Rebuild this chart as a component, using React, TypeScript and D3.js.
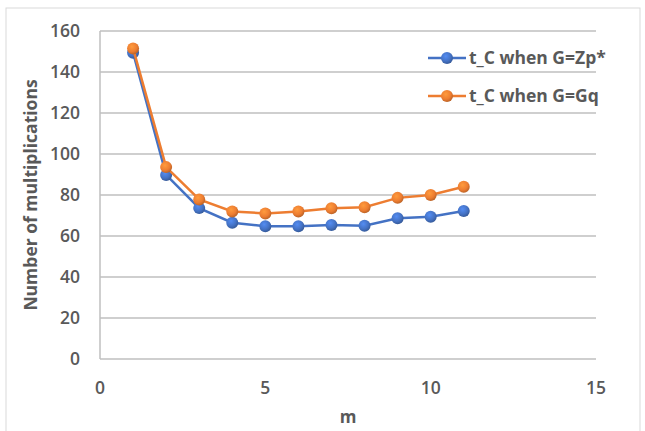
import React from "react";
import * as d3 from "d3";

const mValues = [1, 2, 3, 4, 5, 6, 7, 8, 9, 10, 11];
const zpValues = [149.4, 89.8, 73.6, 66.5, 64.8, 64.8, 65.4, 65, 68.7, 69.4, 72.2];
const gqValues = [151.5, 93.6, 77.8, 72, 71, 72, 73.5, 74, 78.6, 80, 84];
const xTicks = [0, 5, 10, 15];
const yTicks = [0, 20, 40, 60, 80, 100, 120, 140, 160];
const seriesNames = ["t_C when G=Zp*", "t_C when G=Gq"];
const seriesColors = ["#4472C4", "#ED7D31"];

const W = 645;
const H = 431;
const x = d3.scaleLinear().domain([0, 15]).range([100, 596]);
const y = d3.scaleLinear().domain([0, 160]).range([359, 31]);
const font = "'Open Sans', 'Noto Sans', sans-serif";
const textColor = "#595959";

export default function App() {
  const line = d3
    .line<number>()
    .x((_, i) => x(mValues[i]))
    .y((d) => y(d));
  const series = [zpValues, gqValues];
  return (
    <svg
      width={W}
      height={H}
      style={{ position: "fixed", left: 0, top: 0, background: "#fff" }}
    >
      <defs>
        {seriesColors.map((c, i) => (
          <radialGradient key={i} id={`g${i}`} cx="0.4" cy="0.35" r="0.7">
            <stop offset="0%" stopColor={d3.color(c)!.brighter(0.6).toString()} />
            <stop offset="60%" stopColor={c} />
            <stop offset="100%" stopColor={d3.color(c)!.darker(0.8).toString()} />
          </radialGradient>
        ))}
      </defs>
      <rect x={6} y={8} width={634} height={430} fill="#fff" stroke="#d9d9d9" strokeWidth={1} />
      {yTicks.map((t) => (
        <g key={t}>
          <line x1={x(0)} x2={x(15)} y1={y(t)} y2={y(t)} stroke="#bfbfbf" strokeWidth={1.5} />
          <text
            x={80}
            y={y(t)}
            dy="0.35em"
            textAnchor="end"
            fontFamily={font}
            fontWeight={600}
            fontSize={17.5}
            fill={textColor}
          >
            {t}
          </text>
        </g>
      ))}
      <line x1={x(0)} x2={x(0)} y1={y(160)} y2={y(0)} stroke="#bfbfbf" strokeWidth={1.5} />
      {xTicks.map((t) => (
        <text
          key={t}
          x={x(t)}
          y={388}
          dy="0.35em"
          textAnchor="middle"
          fontFamily={font}
          fontWeight={600}
          fontSize={17.5}
          fill={textColor}
        >
          {t}
        </text>
      ))}
      <text
        x={348}
        y={417}
        dy="0.35em"
        textAnchor="middle"
        fontFamily={font}
        fontWeight="bold"
        fontSize={17}
        fill={textColor}
      >
        m
      </text>
      <text
        transform={`translate(37,${y(80)}) rotate(-90)`}
        textAnchor="middle"
        fontFamily={font}
        fontWeight="bold"
        fontSize={17.5}
        fill={textColor}
      >
        Number of multiplications
      </text>
      {series.map((s, si) => (
        <g key={si}>
          <path d={line(s)!} fill="none" stroke={seriesColors[si]} strokeWidth={2.5} />
          {s.map((v, i) => (
            <circle key={i} cx={x(mValues[i])} cy={y(v)} r={6} fill={`url(#g${si})`} />
          ))}
        </g>
      ))}
      {seriesNames.map((n, i) => {
        const ly = 58 + i * 38;
        return (
          <g key={n}>
            <line x1={428} x2={466} y1={ly} y2={ly} stroke={seriesColors[i]} strokeWidth={2.5} />
            <circle cx={447} cy={ly} r={6} fill={`url(#g${i})`} />
            <text
              x={469}
              y={ly}
              dy="0.35em"
              fontFamily={font}
              fontWeight="bold"
              fontSize={17.5}
              fill={textColor}
            >
              {n}
            </text>
          </g>
        );
      })}
    </svg>
  );
}
